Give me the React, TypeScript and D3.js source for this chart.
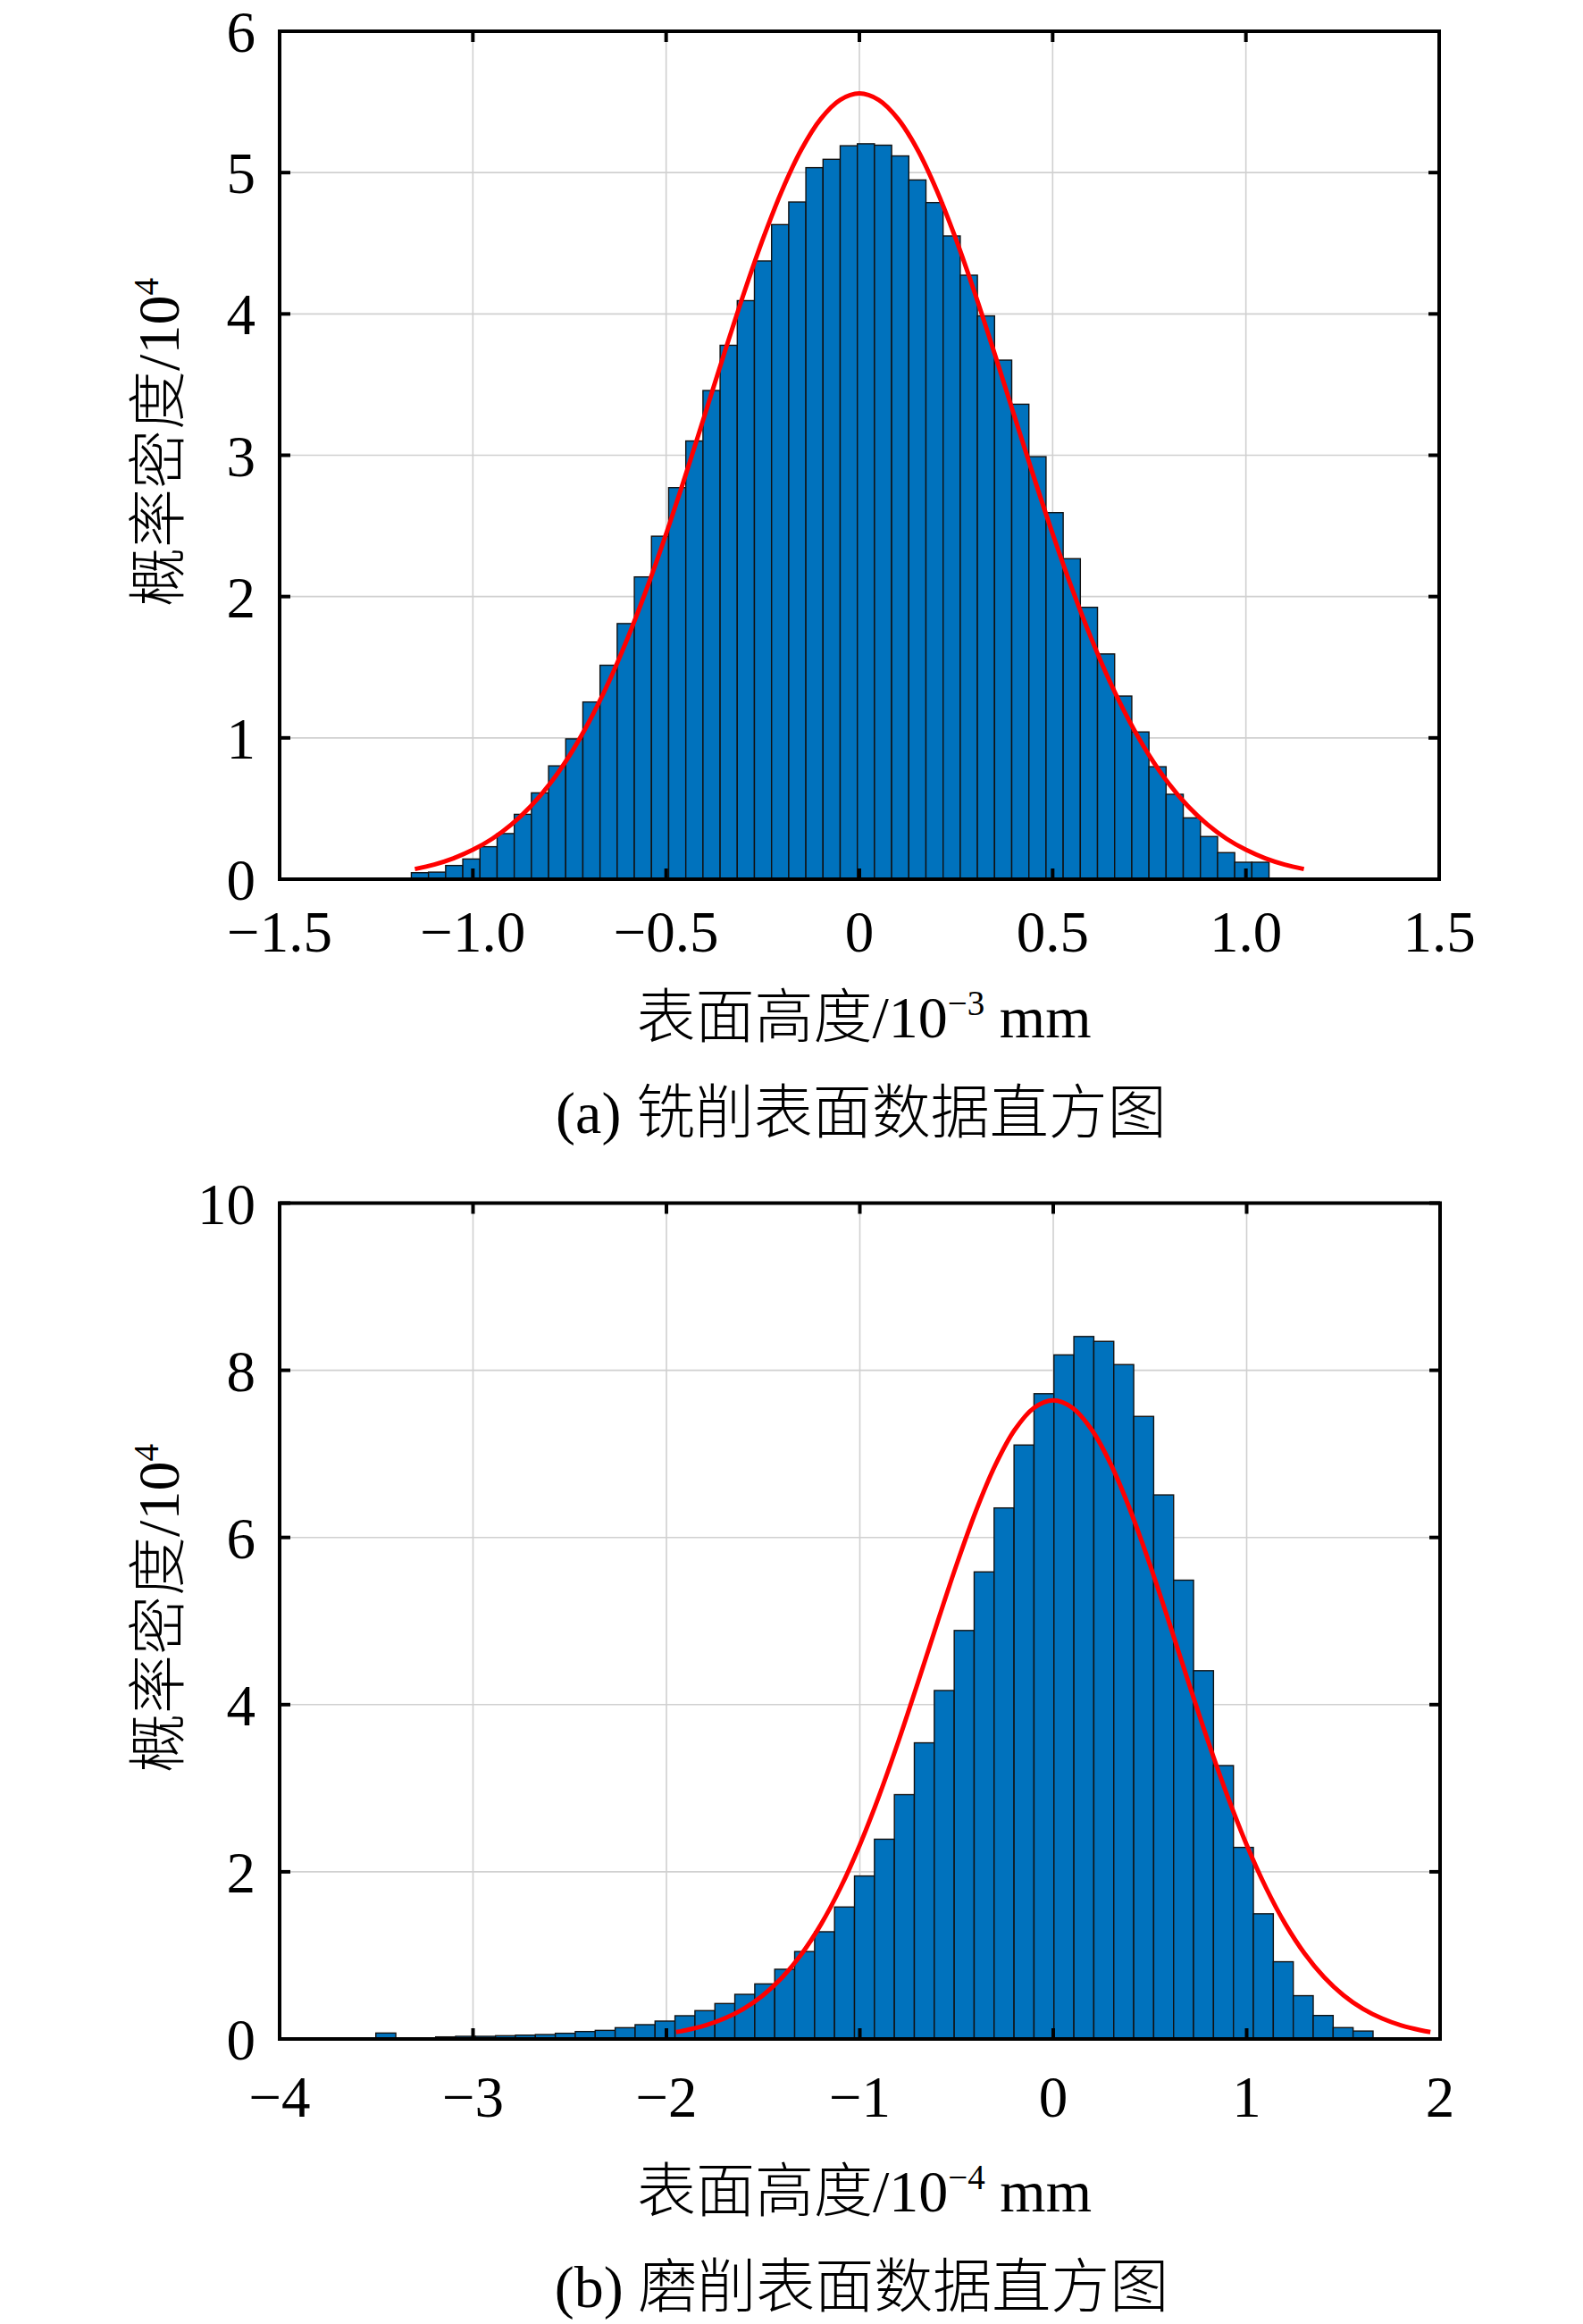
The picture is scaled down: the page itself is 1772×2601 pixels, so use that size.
import * as d3 from "d3";

const WIDTH = 1772;
const HEIGHT = 2601;

// (a) milled surface, 50 bins of surface height (10^-3 mm)
const millBinStart = -1.1592;
const millBinWidth = 0.04438;
const millDensity = [
  0.046, 0.05, 0.097, 0.143, 0.23, 0.323, 0.459, 0.611, 0.802, 0.993,
  1.254, 1.514, 1.809, 2.139, 2.427, 2.771, 3.101, 3.458, 3.778, 4.094,
  4.375, 4.632, 4.792, 5.035, 5.094, 5.19, 5.204, 5.194, 5.118, 4.948,
  4.788, 4.552, 4.274, 3.986, 3.673, 3.361, 2.99, 2.594, 2.268, 1.924,
  1.594, 1.296, 1.042, 0.796, 0.601, 0.434, 0.302, 0.188, 0.12, 0.12,
];
const millFitX = [
  -1.15, -1.1, -1.05, -1.0, -0.95, -0.9, -0.85, -0.8, -0.75, -0.7, -0.65, -0.6,
  -0.55, -0.5, -0.45, -0.4, -0.35, -0.3, -0.25, -0.2, -0.15, -0.1, -0.05, 0,
  0.05, 0.1, 0.15, 0.2, 0.25, 0.3, 0.35, 0.4, 0.45, 0.5, 0.55, 0.6,
  0.65, 0.7, 0.75, 0.8, 0.85, 0.9, 0.95, 1.0, 1.05, 1.1, 1.15,
];
const millFitY = [
  0.072, 0.104, 0.148, 0.208, 0.286, 0.388, 0.517, 0.678, 0.875, 1.111, 1.386, 1.703,
  2.057, 2.444, 2.857, 3.286, 3.717, 4.136, 4.527, 4.875, 5.164, 5.38, 5.514, 5.56,
  5.514, 5.38, 5.164, 4.875, 4.527, 4.136, 3.717, 3.286, 2.857, 2.444, 2.057, 1.703,
  1.386, 1.111, 0.875, 0.678, 0.517, 0.388, 0.286, 0.208, 0.148, 0.104, 0.072,
];
const millXTicks = [-1.5, -1, -0.5, 0, 0.5, 1, 1.5];
const millXTickLabels = ["\u22121.5", "\u22121.0", "\u22120.5", "0", "0.5", "1.0", "1.5"];
const millYTicks = [0, 1, 2, 3, 4, 5, 6];

// (b) ground surface, 50 bins of surface height (10^-4 mm)
const grindBinStart = -3.5025;
const grindBinWidth = 0.10312;
const grindDensity = [
  0.071, 0, 0.01, 0.025, 0.032, 0.032, 0.039, 0.046, 0.053, 0.068,
  0.089, 0.103, 0.135, 0.171, 0.214, 0.278, 0.339, 0.424, 0.534, 0.659,
  0.834, 1.046, 1.283, 1.579, 1.95, 2.39, 2.923, 3.543, 4.169, 4.887,
  5.588, 6.353, 7.106, 7.72, 8.184, 8.404, 8.346, 8.068, 7.448, 6.509,
  5.489, 4.406, 3.271, 2.292, 1.498, 0.924, 0.518, 0.281, 0.136, 0.095,
];
const grindFitX = [
  -1.95, -1.9, -1.8, -1.7, -1.6, -1.5, -1.4, -1.3, -1.2, -1.1, -1.0, -0.9, -0.8, -0.7,
  -0.6, -0.5, -0.4, -0.3, -0.2, -0.1, 0, 0.1, 0.2, 0.3, 0.4, 0.5, 0.6,
  0.7, 0.8, 0.9, 1.0, 1.1, 1.2, 1.3, 1.4, 1.5, 1.6, 1.7, 1.8, 1.9, 1.95,
];
const grindFitY = [
  0.083, 0.104, 0.161, 0.245, 0.362, 0.524, 0.74, 1.021, 1.375, 1.809, 2.323, 2.912, 3.565, 4.263,
  4.977, 5.673, 6.315, 6.864, 7.285, 7.55, 7.64, 7.55, 7.285, 6.864, 6.315, 5.673, 4.977,
  4.263, 3.565, 2.912, 2.323, 1.809, 1.375, 1.021, 0.74, 0.524, 0.362, 0.245, 0.161, 0.104, 0.083,
];
const grindXTicks = [-4, -3, -2, -1, 0, 1, 2];
const grindXTickLabels = ["\u22124", "\u22123", "\u22122", "\u22121", "0", "1", "2"];
const grindYTicks = [0, 2, 4, 6, 8, 10];

const SERIF = "'Liberation Serif', 'Times New Roman', 'Noto Sans CJK SC', serif";
const CJK = "'Noto Sans CJK SC', sans-serif";

interface PanelProps {
  density: number[];
  binStart: number;
  binWidth: number;
  fitX: number[];
  fitY: number[];
  xDomain: [number, number];
  xTicks: number[];
  xTickLabels: string[];
  yDomain: [number, number];
  yTicks: number[];
  box: { left: number; right: number; top: number; bottom: number };
  tickLabelY: number;
  xLabelY: number;
  captionY: number;
  yLabelCenter: number;
  exponent: string;
  caption: [string, string];
}

function Panel(p: PanelProps) {
  const { left, right, top, bottom } = p.box;
  const x = d3.scaleLinear().domain(p.xDomain).range([left, right]);
  const y = d3.scaleLinear().domain(p.yDomain).range([bottom, top]);
  const tick = 12;
  const midX = (left + right) / 2;

  const fit = d3
    .line<number>()
    .x((_, i) => x(p.fitX[i]))
    .y((d) => y(d))
    .curve(d3.curveCatmullRom);

  return (
    <g>
      {/* grid */}
      {p.xTicks.map((t) => (
        <line key={`gx${t}`} x1={x(t)} x2={x(t)} y1={top} y2={bottom} stroke="#d0d0d0" strokeWidth={1.6} />
      ))}
      {p.yTicks.map((t) => (
        <line key={`gy${t}`} x1={left} x2={right} y1={y(t)} y2={y(t)} stroke="#d0d0d0" strokeWidth={1.6} />
      ))}

      {/* histogram */}
      {p.density.map((d, i) =>
        d > 0 ? (
          <rect
            key={`b${i}`}
            x={x(p.binStart + i * p.binWidth)}
            width={x(p.binStart + (i + 1) * p.binWidth) - x(p.binStart + i * p.binWidth)}
            y={y(d)}
            height={y(0) - y(d)}
            fill="#0072BD"
            stroke="#111"
            strokeWidth={1.4}
          />
        ) : null
      )}

      {/* fitted normal curve */}
      <path d={fit(p.fitY) ?? ""} fill="none" stroke="#ff0000" strokeWidth={5} />

      {/* axes box and inward ticks */}
      <rect x={left} y={top} width={right - left} height={bottom - top} fill="none" stroke="#000" strokeWidth={4} />
      {p.xTicks.map((t) => (
        <g key={`tx${t}`} stroke="#000" strokeWidth={4}>
          <line x1={x(t)} x2={x(t)} y1={bottom} y2={bottom - tick} />
          <line x1={x(t)} x2={x(t)} y1={top} y2={top + tick} />
        </g>
      ))}
      {p.yTicks.map((t) => (
        <g key={`ty${t}`} stroke="#000" strokeWidth={4}>
          <line x1={left} x2={left + tick} y1={y(t)} y2={y(t)} />
          <line x1={right} x2={right - tick} y1={y(t)} y2={y(t)} />
        </g>
      ))}

      {/* tick labels */}
      <g fontFamily={SERIF} fontSize={65} fill="#000">
        {p.xTicks.map((t, i) => (
          <text key={`lx${t}`} x={x(t)} y={p.tickLabelY} textAnchor="middle">
            {p.xTickLabels[i]}
          </text>
        ))}
        {p.yTicks.map((t) => (
          <text key={`ly${t}`} x={left - 27} y={y(t) + 23} textAnchor="end">
            {t}
          </text>
        ))}
      </g>

      {/* axis titles */}
      <text x={midX + 5} y={p.xLabelY} textAnchor="middle" fontFamily={SERIF} fontSize={66}>
        <tspan fontFamily={CJK} fontWeight={300}>表面高度</tspan>
        <tspan>/10</tspan>
        <tspan fontSize={39} dy={-25}>{p.exponent}</tspan>
        <tspan dy={25}> mm</tspan>
      </text>
      <text
        transform={`translate(200,${p.yLabelCenter}) rotate(-90)`}
        textAnchor="middle"
        fontFamily={SERIF}
        fontSize={66}
      >
        <tspan fontFamily={CJK} fontWeight={300}>概率密度</tspan>
        <tspan>/10</tspan>
        <tspan fontSize={39} dy={-23}>4</tspan>
      </text>

      {/* caption */}
      <text x={midX + 2} y={p.captionY} textAnchor="middle" fontFamily={SERIF} fontSize={66}>
        <tspan>{p.caption[0]} </tspan>
        <tspan fontFamily={CJK} fontWeight={300}>{p.caption[1]}</tspan>
      </text>
    </g>
  );
}

export default function App() {
  return (
    <div style={{ position: "absolute", left: 0, top: 0 }}>
      <svg width={WIDTH} height={HEIGHT} viewBox={`0 0 ${WIDTH} ${HEIGHT}`} style={{ display: "block", background: "#fff" }}>
        <rect width={WIDTH} height={HEIGHT} fill="#fff" />
        <Panel
          density={millDensity}
          binStart={millBinStart}
          binWidth={millBinWidth}
          fitX={millFitX}
          fitY={millFitY}
          xDomain={[-1.5, 1.5]}
          xTicks={millXTicks}
          xTickLabels={millXTickLabels}
          yDomain={[0, 6]}
          yTicks={millYTicks}
          box={{ left: 313, right: 1611, top: 35, bottom: 984 }}
          tickLabelY={1065}
          xLabelY={1161}
          captionY={1268}
          yLabelCenter={495}
          exponent={"\u22123"}
          caption={["(a)", "铣削表面数据直方图"]}
        />
        <Panel
          density={grindDensity}
          binStart={grindBinStart}
          binWidth={grindBinWidth}
          fitX={grindFitX}
          fitY={grindFitY}
          xDomain={[-4, 2]}
          xTicks={grindXTicks}
          xTickLabels={grindXTickLabels}
          yDomain={[0, 10]}
          yTicks={grindYTicks}
          box={{ left: 313, right: 1612, top: 1346.5, bottom: 2282 }}
          tickLabelY={2369}
          xLabelY={2475}
          captionY={2582}
          yLabelCenter={1800}
          exponent={"\u22124"}
          caption={["(b)", "磨削表面数据直方图"]}
        />
      </svg>
    </div>
  );
}
